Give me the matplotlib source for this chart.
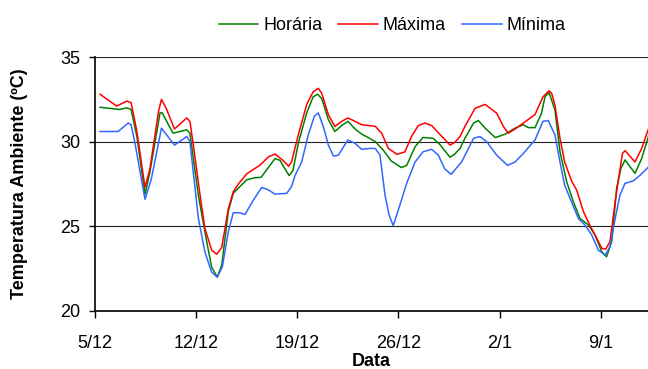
import matplotlib.pyplot as plt

# days counted from 5/12
tick_days = [0, 7, 14, 21, 28, 35]
tick_labels = ['5/12', '12/12', '19/12', '26/12', '2/1', '9/1']

days_max = [0.35, 1.5, 2.2, 2.5, 2.9, 3.46, 3.8, 4.4, 4.6, 4.96, 5.5, 6.35, 6.57, 6.87,
            7.27, 7.6, 8.07, 8.42, 8.77, 9.23, 9.57, 9.92, 10.5, 10.85, 11.4, 12.0,
            12.46, 13.0, 13.4, 13.6, 14.07, 14.65, 15.1, 15.45, 15.69, 16.15, 16.6,
            17.07, 17.5, 18.0, 18.45, 19.0, 19.4, 19.84, 20.3, 20.9, 21.45, 21.9,
            22.37, 22.84, 23.3, 23.9, 24.57, 24.9, 25.26, 25.6, 26.3, 27.0, 27.8,
            28.26, 28.6, 29.07, 29.64, 30.45, 31.0, 31.42, 31.6, 31.83, 32.18, 32.5,
            33.0, 33.33, 33.8, 34.26, 34.72, 35.07, 35.34, 35.64, 36.0, 36.2, 36.5,
            36.68, 37.37, 37.83, 38.3]
t_max = [32.8, 32.1, 32.4, 32.3, 30.6, 27.3, 28.4, 31.8, 32.5, 31.9, 30.75, 31.4, 31.2,
         29.4, 26.85, 24.9, 23.6, 23.35, 23.75, 26.05, 27.05, 27.5, 28.1, 28.3, 28.6,
         29.1, 29.27, 28.9, 28.55, 28.8, 30.4, 32.2, 32.95, 33.15, 32.86, 31.6, 30.9,
         31.2, 31.4, 31.2, 31.0, 30.95, 30.9, 30.5, 29.6, 29.25, 29.4, 30.3, 30.95,
         31.1, 30.95, 30.4, 29.8, 29.96, 30.3, 30.9, 31.97, 32.2, 31.68, 30.9, 30.5,
         30.75, 31.1, 31.6, 32.65, 33.0, 32.86, 32.17, 30.2, 28.8, 27.64, 27.15,
         25.87, 25.04, 24.3, 23.7, 23.65, 24.1, 26.46, 27.64, 29.3, 29.47, 28.8, 29.6,
         30.75]

days_hor = [0.35, 1.7, 2.2, 2.5, 2.9, 3.46, 3.8, 4.5, 4.65, 5.4, 6.35, 6.57, 7.15, 7.73,
            8.07, 8.46, 8.77, 9.23, 9.57, 10.03, 10.5, 10.96, 11.5, 12.46, 12.8, 13.0,
            13.43, 13.7, 14.07, 14.65, 15.1, 15.4, 15.69, 16.15, 16.6, 17.07, 17.5,
            18.0, 18.45, 19.0, 19.4, 19.95, 20.5, 21.2, 21.57, 22.15, 22.7, 23.4, 23.9,
            24.57, 24.9, 25.26, 25.6, 26.2, 26.53, 27.0, 27.7, 28.37, 29.07, 29.64,
            29.98, 30.45, 30.9, 31.14, 31.42, 31.83, 32.18, 32.64, 33.1, 33.56, 34.14,
            34.6, 35.07, 35.4, 35.76, 36.1, 36.4, 36.68, 37.37, 37.83, 38.3]
t_hor = [32.03, 31.9, 32.0, 31.9, 30.3, 26.9, 28.2, 31.7, 31.7, 30.5, 30.7, 30.5, 26.85,
         24.1, 22.6, 22.0, 22.7, 25.9, 26.95, 27.35, 27.75, 27.85, 27.9, 29.0, 28.9,
         28.6, 28.0, 28.3, 29.9, 31.7, 32.65, 32.8, 32.55, 31.3, 30.6, 30.95, 31.2,
         30.75, 30.45, 30.2, 30.0, 29.5, 28.86, 28.47, 28.6, 29.7, 30.25, 30.2, 29.8,
         29.08, 29.27, 29.6, 30.2, 31.1, 31.25, 30.8, 30.24, 30.44, 30.8, 31.0, 30.83,
         30.83, 31.67, 32.65, 32.9, 31.87, 29.4, 27.64, 26.46, 25.47, 25.08, 24.5,
         23.5, 23.2, 24.1, 27.25, 28.43, 28.92, 28.13, 29.0, 30.3]

days_min = [0.35, 1.6, 2.3, 2.5, 2.77, 3.46, 3.9, 4.6, 5.5, 6.35, 6.57, 7.15, 7.6, 8.07,
            8.46, 8.81, 9.23, 9.57, 10.03, 10.38, 10.96, 11.54, 12.0, 12.46, 13.27,
            13.6, 13.84, 14.3, 14.76, 15.18, 15.45, 15.8, 16.15, 16.5, 16.84, 17.5,
            18.0, 18.45, 19.0, 19.4, 19.72, 20.07, 20.35, 20.64, 21.1, 21.57, 22.15,
            22.7, 23.3, 23.76, 24.2, 24.64, 24.9, 25.37, 26.2, 26.64, 27.1, 27.8,
            28.55, 29.07, 29.64, 30.45, 31.0, 31.37, 31.5, 31.83, 32.18, 32.5, 32.87,
            33.45, 33.9, 34.37, 34.83, 35.3, 35.64, 36.0, 36.33, 36.68, 37.25, 37.7,
            38.3]
t_min = [30.6, 30.6, 31.1, 31.0, 29.9, 26.6, 27.8, 30.8, 29.8, 30.3, 30.0, 25.5, 23.5,
         22.3, 22.0, 22.6, 24.7, 25.8, 25.8, 25.7, 26.55, 27.3, 27.15, 26.9, 26.95,
         27.35, 28.0, 28.8, 30.4, 31.5, 31.7, 30.9, 29.8, 29.15, 29.2, 30.1, 29.9,
         29.55, 29.6, 29.6, 29.2, 26.85, 25.67, 25.04, 26.26, 27.54, 28.8, 29.4, 29.55,
         29.2, 28.4, 28.07, 28.33, 28.8, 30.2, 30.3, 30.0, 29.2, 28.6, 28.8, 29.3,
         30.1, 31.2, 31.25, 31.0, 30.4, 28.8, 27.44, 26.66, 25.47, 25.08, 24.5, 23.6,
         23.3, 23.8, 25.47, 26.85, 27.54, 27.68, 28.0, 28.5]

if __name__ == '__main__':
    plt.rcParams['font.family'] = ['Liberation Sans', 'DejaVu Sans']
    plt.rcParams['font.size'] = 13

    fig = plt.figure(figsize=(6.48, 3.69), dpi=100)
    ax = fig.add_axes([95 / 648, 1 - 311 / 369, 1 - 95 / 648, (311 - 57) / 369])

    ax.plot(days_hor, t_hor, color='#008000', lw=1.1, label='Horária')
    ax.plot(days_max, t_max, color='#ff0000', lw=1.1, label='Máxima')
    ax.plot(days_min, t_min, color='#3366ff', lw=1.1, label='Mínima')

    ax.set_xlim(0, (648 - 95) / 14.45)
    ax.set_ylim(20, 35)
    ax.set_yticks([20, 25, 30, 35])
    ax.set_xticks(tick_days)
    ax.set_xticklabels(tick_labels)
    ax.yaxis.grid(True, color='#222222', lw=0.8)
    ax.set_axisbelow(True)
    for s in ['top', 'right']:
        ax.spines[s].set_visible(False)
    for s in ['left', 'bottom']:
        ax.spines[s].set_linewidth(1.2)
    ax.tick_params(axis='y', direction='out', length=4.5, width=1, pad=6)
    ax.tick_params(axis='x', direction='out', length=5, width=1, pad=12)

    ax.set_xlabel('Data', fontweight='bold', labelpad=1)
    fig.text(20 / 648, 0.5 * (2 - 57 / 369 - 311 / 369), 'Temperatura Ambiente (ºC)',
             rotation=90, ha='center', va='center', fontweight='bold')

    fig.legend(loc='center', bbox_to_anchor=(392 / 648, 1 - 26 / 369), ncol=3,
               frameon=False, handlelength=2.2, handletextpad=0.25, columnspacing=0.9)

    plt.savefig('out.png', dpi=100)
